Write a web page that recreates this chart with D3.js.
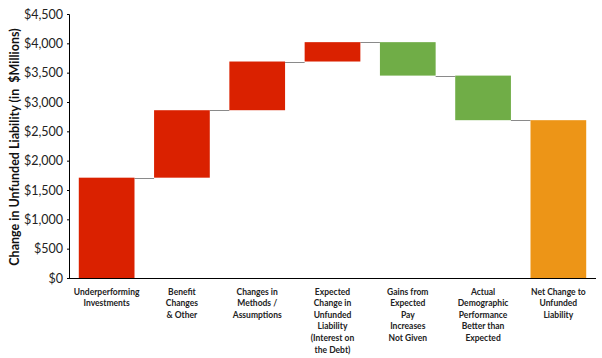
<!DOCTYPE html>
<html>
<head>
<meta charset="utf-8">
<script src="https://cdn.jsdelivr.net/npm/d3@7"></script>
<style>
  body { margin: 0; background: #fff; }
  svg { font-family: Lato, "Open Sans", sans-serif; }
</style>
</head>
<body>
<div id="chart"></div>
<script>
// waterfall steps (in $ millions)
const categories = ['Underperforming Investments', 'Benefit Changes & Other', 'Changes in Methods / Assumptions',
  'Expected Change in Unfunded Liability (Interest on the Debt)', 'Gains from Expected Pay Increases Not Given',
  'Actual Demographic Performance Better than Expected', 'Net Change to Unfunded Liability'];
const labelLines = [
  ['Underperforming', 'Investments'],
  ['Benefit', 'Changes', '& Other'],
  ['Changes in', 'Methods /', 'Assumptions'],
  ['Expected', 'Change in', 'Unfunded', 'Liability', '(Interest on', 'the Debt)'],
  ['Gains from', 'Expected', 'Pay', 'Increases', 'Not Given'],
  ['Actual', 'Demographic', 'Performance', 'Better than', 'Expected'],
  ['Net Change to', 'Unfunded', 'Liability']
];
const changes = [1710, 1150, 830, 330, -570, -760];
const yTicks = [0, 500, 1000, 1500, 2000, 2500, 3000, 3500, 4000, 4500];

const colors = { up: '#da2100', down: '#70ad47', total: '#ed9517' };

// build start/end of each step
var steps = [], run = 0;
changes.forEach((c, i) => {
  steps.push({ cat: categories[i], start: run, end: run + c, type: c >= 0 ? 'up' : 'down' });
  run += c;
});
steps.push({ cat: categories[6], start: 0, end: run, type: 'total' });

const W = 602, H = 358;
const x = d3.scaleBand().domain(categories).range([69, 596]).paddingInner(0.26).paddingOuter(0.13);
const y = d3.scaleLinear().domain([0, 4500]).range([278, 14]);

const svg = d3.select('#chart').append('svg')
  .attr('width', W).attr('height', H);

// connectors
svg.selectAll('line.conn')
  .data(steps.slice(0, -1))
  .enter().append('line')
  .attr('class', 'conn')
  .attr('x1', (d) => x(d.cat) + x.bandwidth())
  .attr('x2', (d, i) => x(steps[i + 1].cat))
  .attr('y1', (d) => Math.round(y(d.end)) + 0.5)
  .attr('y2', (d) => Math.round(y(d.end)) + 0.5)
  .attr('stroke', '#8a8a8a')
  .attr('stroke-width', 1);

// bars
svg.selectAll('rect.bar')
  .data(steps)
  .enter().append('rect')
  .attr('class', 'bar')
  .attr('x', (d) => x(d.cat))
  .attr('width', x.bandwidth())
  .attr('y', (d) => y(Math.max(d.start, d.end)))
  .attr('height', (d) => Math.abs(y(d.start) - y(d.end)))
  .attr('fill', (d) => colors[d.type]);

// y axis
const yAxis = d3.axisLeft(y).tickValues(yTicks).tickSize(2).tickPadding(4)
  .tickFormat((d) => '$' + d3.format(',')(d));
const gy = svg.append('g').attr('transform', 'translate(69,0)').call(yAxis);
gy.select('.domain').attr('stroke', '#000');
gy.selectAll('.tick line').attr('stroke', '#000');
gy.selectAll('.tick text').attr('font-size', 12.5).attr('fill', '#222')
  .style('font-family', 'Lato, sans-serif');

// x axis line
svg.append('line')
  .attr('x1', 69).attr('x2', 596)
  .attr('y1', 278.5).attr('y2', 278.5)
  .attr('stroke', '#000').attr('stroke-width', 1.2);

// category labels
const lbl = svg.selectAll('text.cat')
  .data(categories)
  .enter().append('text')
  .attr('class', 'cat')
  .attr('text-anchor', 'middle')
  .attr('font-size', 8.5)
  .attr('font-weight', 'bold')
  .attr('fill', '#222');
lbl.each(function(d, i) {
  d3.select(this).selectAll('tspan')
    .data(labelLines[i])
    .enter().append('tspan')
    .attr('x', x(d) + x.bandwidth() / 2)
    .attr('y', (t, j) => 294.5 + j * 11.6)
    .text((t) => t);
});

// y title
svg.append('text')
  .attr('transform', 'translate(19,147) rotate(-90)')
  .attr('text-anchor', 'middle')
  .attr('font-size', 12.5)
  .attr('font-weight', 'bold')
  .attr('fill', '#111')
  .style('white-space', 'pre')
  .text('Change in Unfunded Liability (in  $Millions)');
</script>
</body>
</html>
